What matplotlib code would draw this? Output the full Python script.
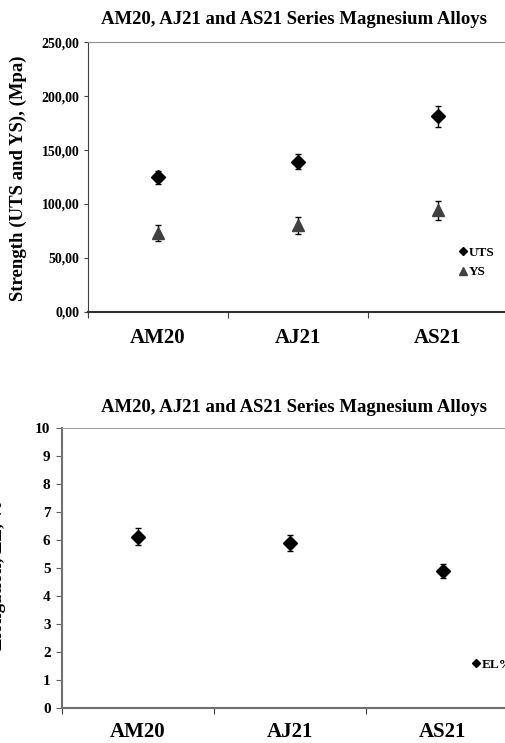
import numpy as np
import matplotlib
matplotlib.use("Agg")
import matplotlib.pyplot as plt
from matplotlib.ticker import FuncFormatter

plt.rcParams['font.family'] = ['Liberation Serif', 'DejaVu Serif']
plt.rcParams['font.weight'] = 'bold'

# data
alloys = ['AM20', 'AJ21', 'AS21']
uts = [124.7, 139.2, 181.3]
uts_err = [6.0, 7.0, 9.5]
ys = [73.2, 80.2, 94.1]
ys_err = [7.5, 8.0, 9.0]
elong = [6.12, 5.89, 4.89]
elong_err = [0.31, 0.30, 0.26]

title = 'AM20, AJ21 and AS21 Series Magnesium Alloys'
W, H = 505, 743

fig = plt.figure(figsize=(W / 100, H / 100), dpi=100)

def px_axes(left, top, right, bottom):
    return fig.add_axes([left / W, 1 - bottom / H, (right - left) / W, (bottom - top) / H])

def style_cats(ax, pad):
    ax.set_xlim(0, 3)
    ax.set_xticks([0, 1, 2, 3])
    ax.set_xticklabels([])
    ax.set_xticks([0.5, 1.5, 2.5], minor=True)
    ax.set_xticklabels(alloys, minor=True, fontsize=15, fontweight='bold')
    ax.tick_params(axis='x', which='minor', length=0, pad=pad)
    ax.tick_params(axis='x', which='major', direction='out', length=4, color='#404040')

x = np.arange(len(alloys)) + 0.5

# ---- top chart: strength
ax1 = px_axes(87.7, 42.3, 508, 311.7)
ax1.errorbar(x, uts, yerr=uts_err, fmt='none', ecolor='black', elinewidth=1, capsize=2.5, capthick=1)
ax1.errorbar(x, ys, yerr=ys_err, fmt='none', ecolor='black', elinewidth=1, capsize=2.5, capthick=1)
ax1.plot(x, uts, 'D', color='black', markersize=7, label='UTS')
ax1.plot(x, ys, '^', color='#404040', markersize=9, label='YS')
ax1.set_ylim(0, 250)
ax1.set_yticks(np.arange(0, 251, 50))
ax1.yaxis.set_major_formatter(FuncFormatter(lambda v, p: f"{v:.2f}".replace('.', ',')))
ax1.tick_params(axis='y', direction='out', length=3, pad=3, labelsize=10, color='#404040')
style_cats(ax1, 12)
for s in ['top', 'right']:
    ax1.spines[s].set_color('#909090')
ax1.spines['left'].set_color('#404040')
ax1.spines['bottom'].set_color('#303030')
ax1.spines['bottom'].set_linewidth(1.5)
ax1.legend(loc='upper left', bbox_to_anchor=(452 / W, 1 - 240 / H), bbox_transform=fig.transFigure,
           frameon=False, markerscale=0.6, handlelength=0.6, handletextpad=0.2, labelspacing=0.55,
           borderpad=0, prop={'size': 9.5, 'weight': 'bold'})
fig.text(294 / W, 1 - 19 / H, title, ha='center', va='center', fontsize=13.5, fontweight='bold')
fig.text(18 / W, 1 - 178 / H, 'Strength (UTS and YS), (Mpa)', rotation=90, ha='center', va='center',
         fontsize=13.5, fontweight='bold')

# ---- bottom chart: elongation
ax2 = px_axes(61.7, 427.7, 518.7, 708.3)
ax2.errorbar(x, elong, yerr=elong_err, fmt='none', ecolor='black', elinewidth=1, capsize=2.5, capthick=1)
ax2.plot(x, elong, 'D', color='black', markersize=7, label='EL%')
ax2.set_ylim(0, 10)
ax2.set_yticks(np.arange(0, 11, 1))
ax2.tick_params(axis='y', direction='out', length=4, pad=4, labelsize=11, color='#606060')
style_cats(ax2, 10)
for s in ['top', 'right']:
    ax2.spines[s].set_color('#a0a0a0')
ax2.spines['left'].set_color('#707070')
ax2.spines['bottom'].set_color('#707070')
ax2.spines['left'].set_linewidth(1.5)
ax2.spines['bottom'].set_linewidth(1.5)
ax2.legend(loc='upper left', bbox_to_anchor=(465 / W, 1 - 652 / H), bbox_transform=fig.transFigure,
           frameon=False, markerscale=0.6, handlelength=0.6, handletextpad=0.2,
           borderpad=0, prop={'size': 9.5, 'weight': 'bold'})
fig.text(294 / W, 1 - 408 / H, title, ha='center', va='center', fontsize=13.5, fontweight='bold')
fig.text(6 / W, 1 - 575 / H, 'Elongation, EL, %', rotation=90, ha='right', va='center',
         fontsize=13.5, fontweight='bold')

fig.savefig('out.png', dpi=100)
